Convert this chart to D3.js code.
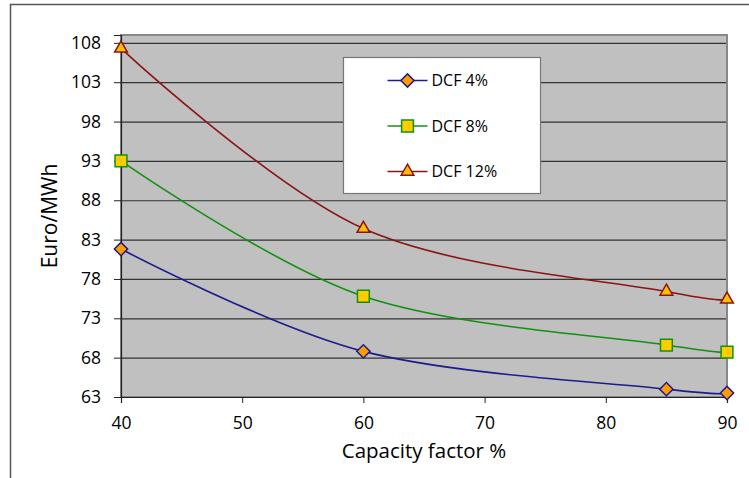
<!DOCTYPE html>
<html>
<head>
<meta charset="utf-8">
<script src="https://cdn.jsdelivr.net/npm/d3@7"></script>
<style>
  body { margin: 0; background: #fff; }
  svg { display: block; font-family: "Open Sans", "Noto Sans", sans-serif; }
</style>
</head>
<body>
<div id="chart"></div>
<script>
// Capacity factor vs levelised cost, three discount rates
const capacity = [40, 60, 85, 90];
const dcf4  = [81.8, 68.8, 64.0, 63.5];
const dcf8  = [93.0, 75.8, 69.6, 68.7];
const dcf12 = [107.3, 84.4, 76.4, 75.4];
const yTicks = [63, 68, 73, 78, 83, 88, 93, 98, 103, 108];
const xTicks = [40, 50, 60, 70, 80, 90];

const series = [
    { name: "DCF 4%",  values: dcf4,  line: "#1c1c8c", fill: "#ff9a00", shape: "diamond" },
    { name: "DCF 8%",  values: dcf8,  line: "#129012", fill: "#ffcc00", shape: "square" },
    { name: "DCF 12%", values: dcf12, line: "#8a1414", fill: "#ffc000", shape: "triangle" }
];

const width = 749, height = 478;
const margin = { top: 35, right: 22, bottom: 81, left: 121 };
const innerW = width - margin.left - margin.right;
const innerH = height - margin.top - margin.bottom;

const svg = d3.select("#chart").append("svg")
    .attr("width", width).attr("height", height);

// outer chart frame
svg.append("rect").attr("x", 10.5).attr("y", 4.5)
    .attr("width", 760).attr("height", 500)
    .attr("fill", "none").attr("stroke", "#555").attr("stroke-width", 1.5);

const g = svg.append("g").attr("transform", `translate(${margin.left},${margin.top})`);

const x = d3.scaleLinear().domain([40, 90]).range([0, innerW]);
const y = d3.scaleLinear().domain([63, 109]).range([innerH, 0]);

g.append("rect").attr("width", innerW).attr("height", innerH).attr("fill", "#c0c0c0");

// gridlines
g.append("g").attr("class", "grid")
    .call(d3.axisLeft(y).tickValues(yTicks).tickSize(-innerW).tickFormat(""))
    .call(s => s.select(".domain").remove())
    .selectAll("line").attr("stroke", "#333").attr("stroke-width", 1.2);

g.append("rect").attr("width", innerW).attr("height", innerH)
    .attr("fill", "none").attr("stroke", "#888").attr("stroke-width", 2);

const yAxis = g.append("g")
    .call(d3.axisLeft(y).tickValues(yTicks).tickSize(7).tickPadding(13));
const xAxis = g.append("g").attr("transform", `translate(0,${innerH})`)
    .call(d3.axisBottom(x).tickValues(xTicks).tickSize(6).tickPadding(14));
[yAxis, xAxis].forEach(a => {
    a.select(".domain").attr("stroke", "#222").attr("stroke-width", 1.2);
    a.selectAll("line").attr("stroke", "#222");
    a.selectAll("text").style("font-size", "17.5px").attr("fill", "#000")
        .style("font-family", "'Open Sans', sans-serif");
});

// axis titles
g.append("text").attr("x", innerW / 2).attr("y", innerH + 61)
    .attr("text-anchor", "middle").style("font-size", "20.5px").text("Capacity factor %");
g.append("text").attr("transform", "rotate(-90)")
    .attr("x", -innerH / 2).attr("y", -64)
    .attr("text-anchor", "middle").style("font-size", "21px").text("Euro/MWh");

const symbolOf = {
    diamond:  d3.symbol().type(d3.symbolSquare).size(88),
    square:   d3.symbol().type(d3.symbolSquare).size(140),
    triangle: d3.symbol().type(d3.symbolTriangle).size(70)
};

const line = d3.line()
    .x((d, i) => x(capacity[i]))
    .y(d => y(d))
    .curve(d3.curveCatmullRom.alpha(0));

series.forEach(s => {
    g.append("path").datum(s.values)
        .attr("d", line).attr("fill", "none")
        .attr("stroke", s.line).attr("stroke-width", 1.6);
    g.selectAll(null).data(s.values).join("path")
        .attr("d", symbolOf[s.shape])
        .attr("transform", (d, i) => `translate(${x(capacity[i])},${y(d)})` +
            (s.shape === "diamond" ? " rotate(45)" : ""))
        .attr("fill", s.fill).attr("stroke", s.line).attr("stroke-width", 1.5);
});

// legend
const lg = svg.append("g").attr("transform", "translate(343.5,57.5)");
lg.append("rect").attr("width", 197).attr("height", 136)
    .attr("fill", "#fff").attr("stroke", "#777").attr("stroke-width", 1.2);
series.forEach((s, i) => {
    const row = lg.append("g").attr("transform", `translate(0,${23 + i * 45.5})`);
    row.append("line").attr("x1", 44).attr("x2", 84)
        .attr("stroke", s.line).attr("stroke-width", 1.6);
    row.append("path").attr("d", symbolOf[s.shape])
        .attr("transform", `translate(64,0)` + (s.shape === "diamond" ? " rotate(45)" : ""))
        .attr("fill", s.fill).attr("stroke", s.line).attr("stroke-width", 1.5);
    row.append("text").attr("x", 88).attr("y", 0).attr("dy", "0.35em")
        .style("font-size", "16px").text(s.name);
});
</script>
</body>
</html>
